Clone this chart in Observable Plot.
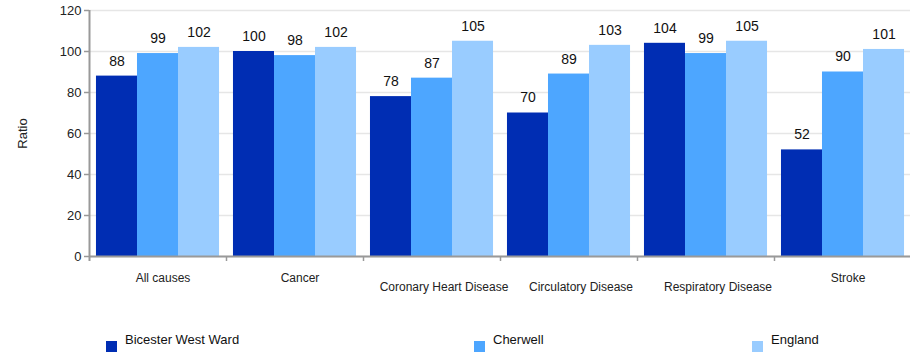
<!DOCTYPE html>
<html>
<head>
<meta charset="utf-8">
<script src="https://cdn.jsdelivr.net/npm/d3@7"></script>
<script src="https://cdn.jsdelivr.net/npm/@observablehq/plot@0.6"></script>
<style>
  html, body { margin: 0; padding: 0; background: #fff; }
  body { width: 910px; height: 355px; position: relative; overflow: hidden; font-family: "Liberation Sans", Arial, sans-serif; }
  #chart svg { display: block; }
  #legend { position: absolute; left: 0; top: 325px; width: 910px; height: 30px; }
  .item { position: absolute; top: 0; height: 30px; font-size: 13px; color: #111; }
  .sw { position: absolute; left: 0; top: 16px; width: 11px; height: 11px; }
  .lb { position: absolute; left: 19px; top: 7px; white-space: nowrap; }
</style>
</head>
<body>
<div id="chart"></div>
<div id="legend"></div>
<script>
const categories = ["All causes", "Cancer", "Coronary Heart Disease", "Circulatory Disease", "Respiratory Disease", "Stroke"];
const series = ["Bicester West Ward", "Cherwell", "England"];
const bicester = [88, 100, 78, 70, 104, 52];
const cherwell = [99, 98, 87, 89, 99, 90];
const england = [102, 102, 105, 103, 105, 101];
const colors = ["#002DB3", "#4DA6FF", "#99CCFF"];
const yTicks = [0, 20, 40, 60, 80, 100, 120];
const legendLeft = [106, 474, 752];

const seriesValues = [bicester, cherwell, england];
const table = [];
categories.forEach((c, i) => {
  series.forEach((s, j) => table.push({category: c, series: s, value: seriesValues[j][i]}));
});

const W = 910, ML = 89, MR = -1;
const step = (W - ML - MR) / categories.length;
const axisColor = "#999";

const chart = Plot.plot({
  width: W,
  height: 325,
  marginLeft: ML,
  marginRight: MR,
  marginTop: 10,
  marginBottom: 69,
  style: {fontFamily: "'Liberation Sans', Arial, sans-serif", fontSize: "13px", color: "#222", background: "#fff", overflow: "visible"},
  fx: {domain: categories, padding: 0, round: false, axis: null},
  x: {domain: series, paddingInner: 0, paddingOuter: 0.17, round: false, axis: null},
  y: {domain: [0, 120], ticks: yTicks, axis: null},
  color: {domain: series, range: colors},
  marks: [
    Plot.gridY(yTicks, {stroke: "#e6e6e6", strokeOpacity: 1, strokeWidth: 1.5}),
    Plot.barY(table, {fx: "category", x: "series", y: "value", fill: "series"}),
    Plot.text(table, {fx: "category", x: "series", y: "value", text: d => String(d.value), dy: -15, fontSize: 14, fill: "#111"}),
    // x axis baseline
    Plot.ruleY([0], {stroke: axisColor, strokeWidth: 2}),
    // group separator ticks
    Plot.ruleX(categories, {fx: d => d, x: null, y1: 0, y2: 0, insetBottom: -5, dx: step / 2, stroke: axisColor, strokeWidth: 1.5}),
    // y axis line
    Plot.ruleX([categories[0]], {fx: d => d, x: null, y1: 120, y2: 0, insetBottom: -5, dx: -step / 2, stroke: axisColor, strokeWidth: 2}),
    Plot.axisY({ticks: yTicks, tickSize: 5, tickPadding: 3, stroke: axisColor, strokeWidth: 1.5, fontSize: 13, fill: "#222",
      label: "Ratio", labelArrow: "none", labelAnchor: "center", labelOffset: 72, anchor: "left"}),
    // category labels
    Plot.text(categories.filter(c => c.length <= 12), {fx: d => d, text: d => d, frameAnchor: "bottom", dy: 25, dx: 5, fontSize: 12, fill: "#222"}),
    Plot.text(categories.filter(c => c.length > 12), {fx: d => d, text: d => d, frameAnchor: "bottom", dy: 34, dx: 12, fontSize: 12, fill: "#222"})
  ]
});
document.getElementById("chart").appendChild(chart);

const legend = document.getElementById("legend");
series.forEach((s, j) => {
  const item = document.createElement("div");
  item.className = "item";
  item.style.left = legendLeft[j] + "px";
  const sw = document.createElement("div");
  sw.className = "sw";
  sw.style.background = colors[j];
  const lb = document.createElement("div");
  lb.className = "lb";
  lb.textContent = s;
  item.appendChild(sw);
  item.appendChild(lb);
  legend.appendChild(item);
});
</script>
</body>
</html>
